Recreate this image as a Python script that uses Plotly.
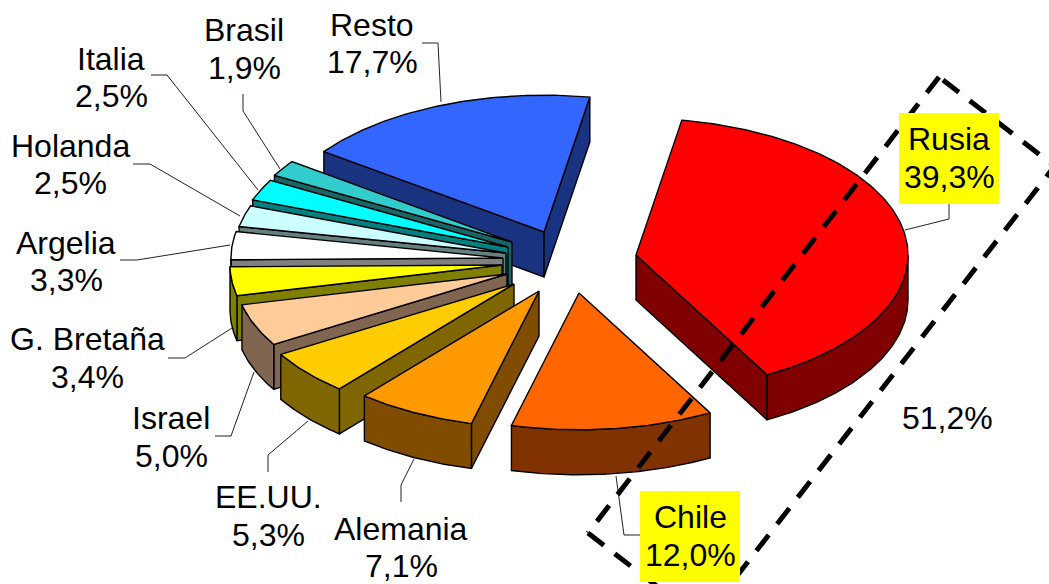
import math
import plotly.graph_objects as go

# ---- data ----
names = ["Rusia", "Chile", "Alemania", "EE.UU.", "Israel", "G. Bretaña",
         "Argelia", "Holanda", "Italia", "Brasil", "Resto"]
values = [39.3, 12.0, 7.1, 5.3, 5.0, 3.4, 3.3, 2.5, 2.5, 1.9, 17.7]
group_label = "51,2%"

# ---- style ----
top_colors = ["#FF0000", "#FF6600", "#FF9900", "#FFCC00", "#FFCC99", "#FFFF00",
              "#FFFFFF", "#CCFFFF", "#00FFFF", "#33CCCC", "#3366FF"]
side_colors = ["#800000", "#803300", "#804C00", "#806600", "#806650", "#808000",
               "#808080", "#668080", "#008080", "#1A6666", "#1A3380"]
apexes = [(636, 255), (579, 293), (539, 291), (514, 284), (507, 274), (502, 265),
          (503, 258), (506, 253), (508, 247), (512, 242), (544, 232)]
# centre x, y of first text line, y of second text line
label_xy = [(949, 139, 177), (690, 517, 555), (401, 529, 566), (268, 497, 535),
            (171, 418, 456), (87, 339, 377), (66, 243, 280), (70, 146, 183),
            (111, 59, 96), (244, 30, 68), (372, 25, 62)]
highlight_boxes = [(899, 113, 999, 204), (640, 491, 740, 582)]
leaders = [
    [(949, 204), (949, 219), (905, 230)],
    [(640, 535), (624, 535), (616, 476)],
    [(401, 502), (401, 485), (414, 459)],
    [(268, 472), (268, 455), (308, 421)],
    [(215, 436), (231, 436), (254, 372)],
    [(168, 358), (185, 358), (232, 328)],
    [(120, 260), (137, 260), (230, 245)],
    [(133, 164), (150, 164), (240, 216)],
    [(151, 75), (167, 75), (258, 190)],
    [(243, 94), (243, 111), (280, 169)],
    [(422, 43), (438, 43), (441, 102)],
]
frame_sides = [
    [(939, 77), (588, 533)],
    [(943, 80), (1053, 165)],
    [(1058.6, 161), (702, 621)],
    [(588, 533), (702, 621)],
]
RX, RATIO, DEPTH, START = 272.0, 0.503, 45.0, 9.7
FONT = "Liberation Sans, Arial, sans-serif"
FONT_SIZE = 32


def pt(apex, deg):
    a = math.radians(deg)
    return apex[0] + RX * math.sin(a), apex[1] - RX * RATIO * math.cos(a)


def arc(apex, a0, a1):
    n = max(2, int(abs(a1 - a0) * 1.5))
    return [pt(apex, a0 + (a1 - a0) * i / n) for i in range(n + 1)]


def down(p):
    return (p[0], p[1] + DEPTH)


def poly(fig, points, fill):
    xs = [p[0] for p in points] + [points[0][0]]
    ys = [p[1] for p in points] + [points[0][1]]
    fig.add_trace(go.Scatter(x=xs, y=ys, mode="lines", fill="toself", fillcolor=fill,
                             line=dict(color="#000000", width=1.4), hoverinfo="skip",
                             showlegend=False))


def text_line(fig, x, y, text):
    fig.add_annotation(x=x, y=y, text=text, showarrow=False, xanchor="center", yanchor="middle",
                       font=dict(family=FONT, size=FONT_SIZE, color="#000000"))


total = sum(values)
spans, a = [], START
for v in values:
    spans.append((a, a + v / total * 360))
    a += v / total * 360

fig = go.Figure()
for i in reversed(range(len(values))):
    a0, a1 = spans[i]
    apex = apexes[i]
    # a radial wall only shows when it faces the viewer
    if math.sin(math.radians(a0)) < 0:
        p = pt(apex, a0)
        poly(fig, [apex, p, down(p), down(apex)], side_colors[i])
    if math.sin(math.radians(a1)) > 0:
        p = pt(apex, a1)
        poly(fig, [apex, p, down(p), down(apex)], side_colors[i])
    lo, hi = max(a0, 90), min(a1, 270)
    if hi > lo:
        outer = arc(apex, lo, hi)
        poly(fig, outer + [down(p) for p in reversed(outer)], side_colors[i])
    poly(fig, [apex] + arc(apex, a0, a1), top_colors[i])

for path in leaders:
    fig.add_trace(go.Scatter(x=[p[0] for p in path], y=[p[1] for p in path], mode="lines",
                             line=dict(color="#222222", width=1), hoverinfo="skip",
                             showlegend=False))

for side in frame_sides:
    fig.add_trace(go.Scatter(x=[p[0] for p in side], y=[p[1] for p in side], mode="lines",
                             line=dict(color="#000000", width=5, dash="20px,13.8px"),
                             hoverinfo="skip", showlegend=False))

for x0, y0, x1, y1 in highlight_boxes:
    fig.add_shape(type="rect", x0=x0, y0=y0, x1=x1, y1=y1, fillcolor="#FFFF00",
                  line=dict(width=0), layer="above")

for n, v, (x, y1, y2) in zip(names, values, label_xy):
    text_line(fig, x, y1, n)
    text_line(fig, x, y2, f"{v:.1f}".replace(".", ",") + "%")
text_line(fig, 947, 418, group_label)

fig.update_layout(width=1049, height=584, autosize=False, margin=dict(l=0, r=0, t=0, b=0),
                  paper_bgcolor="#FFFFFF", plot_bgcolor="#FFFFFF", showlegend=False,
                  xaxis=dict(range=[0, 1049], visible=False, fixedrange=True),
                  yaxis=dict(range=[584, 0], visible=False, fixedrange=True))
fig.write_html("out.html", config={"displayModeBar": False},
               post_script="document.body.style.margin='0';document.body.style.overflow='hidden';")
